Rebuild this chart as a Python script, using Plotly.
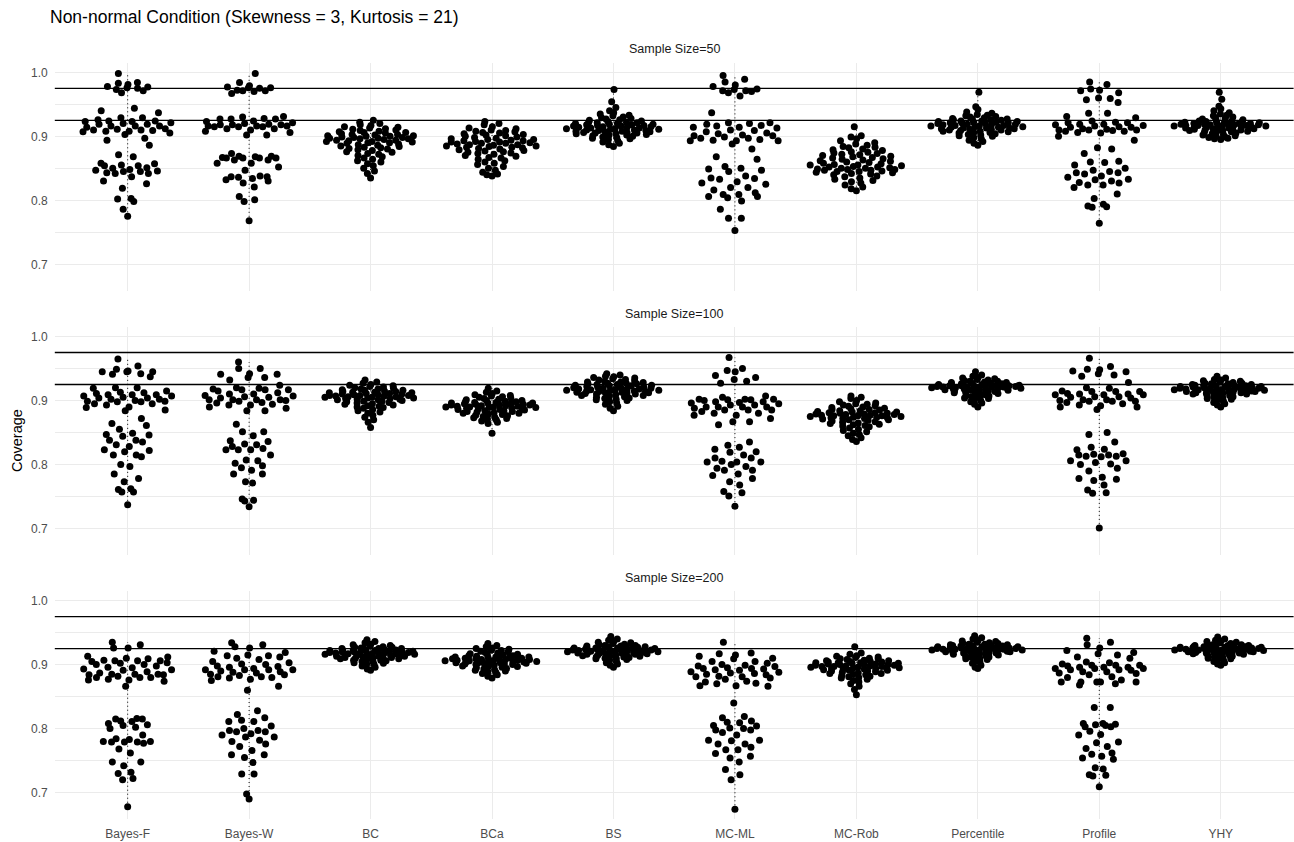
import numpy as np
import plotly.graph_objects as go

# ---------------- data (coverage values) ----------------
methods = ["Bayes-F", "Bayes-W", "BC", "BCa", "BS", "MC-ML", "MC-Rob", "Percentile", "Profile", "YHY"]
panel_titles = ["Sample Size=50", "Sample Size=100", "Sample Size=200"]
ref_lines = [0.925, 0.975]
y_ticks = [0.7, 0.8, 0.9, 1.0]
y_tick_labels = ["0.7", "0.8", "0.9", "1.0"]

# values in thousandths
# ---- Sample Size = 50
bayes_f_50 = [998,984,983,981,978,977,975,973,971,968,976,
              944,940,937,929,929,926,924,924,923,923,921,919,919,916,916,916,912,911,910,910,909,908,908,907,905,903,897,894,886,920,914,
              871,868,858,857,855,854,854,851,848,847,846,845,845,842,842,837,830,826,819,803,802,798,786,775,850,843]
bayes_w_50 = [998,979,984,976,971,970,972,967,971,975,976,977,
              928,915,918,916,924,920,912,915,927,923,927,931,916,916,919,918,927,918,902,906,908,902,915,930,921,910,912,
              863,866,858,868,869,863,866,858,867,869,873,866,866,852,847,837,838,834,827,830,832,836,837,821,798,806,801,768]
bc_50 = [925,922,920,918,917,915,914,913,912,911,910,909,908,907,906,906,905,904,903,903,902,901,900,900,899,898,898,897,896,896,
         895,894,894,893,892,892,891,890,890,889,888,887,886,885,884,883,882,881,880,879,878,876,875,873,872,870,868,866,864,862,
         860,857,854,850,846,842,835,901,897]
bca_50 = [923,920,918,915,913,912,910,909,908,907,906,905,904,903,902,901,900,899,898,897,896,895,895,894,893,893,892,891,891,890,
          889,889,888,887,887,886,885,885,884,883,883,882,881,880,879,878,877,876,875,874,873,872,870,869,867,866,864,862,860,858,
          856,853,850,847,844,841,840,838]
bs_50 = [973,954,945,940,937,935,933,932,930,929,928,927,926,925,924,923,922,921,920,920,919,918,917,917,916,915,915,914,913,913,
         912,911,911,910,909,909,908,907,907,906,905,905,904,903,902,901,900,899,898,897,896,895,893,891,889,887,884,
         921,918,916,914,912,910,908,906,904,902,922,919]
mc_ml_50 = [985,995,989,971,971,973,970,978,974,963,968,980,
            937,919,921,917,913,920,921,909,914,914,902,901,893,888,907,897,893,895,897,894,901,893,904,880,868,864,910,905,899,916,
            853,849,850,847,835,833,838,825,829,834,820,816,806,804,809,809,806,799,820,786,772,772,753,845,812,827]
mc_rob_50 = [915,901,899,896,893,890,888,886,884,883,882,880,879,878,876,875,874,873,872,871,870,869,868,867,866,865,864,863,862,861,
             860,859,858,857,856,855,855,854,853,852,852,851,850,850,849,848,848,847,847,846,845,845,844,843,842,841,840,838,837,835,
             833,831,829,827,824,821,818,815]
percentile_50 = [969,946,942,938,936,934,933,932,931,930,929,928,927,926,926,925,924,923,923,922,921,921,920,919,919,918,917,917,916,915,
                 915,914,913,913,912,911,911,910,909,908,908,907,906,905,904,903,902,901,900,898,896,894,892,889,886,
                 920,916,912,924,918,914,910,922,927,921,913,906]
profile_50 = [985,972,968,971,974,957,960,959,953,936,981,
              936,929,921,914,900,915,909,908,919,916,924,931,908,911,919,910,894,914,910,921,910,918,912,906,917,922,905,
              882,880,873,860,861,859,855,847,843,841,843,836,832,838,833,828,827,824,824,803,790,789,791,794,764,850,845,830,820,810]
yhy_50 = [969,958,947,943,940,937,935,933,932,930,929,928,927,926,925,924,924,923,922,922,921,920,920,919,919,918,918,917,917,916,
          916,915,915,914,913,913,912,911,911,910,909,908,908,907,906,905,904,903,902,901,900,899,898,897,896,895,
          921,918,916,914,912,910,923,919,915,909,920,917]

# ---- Sample Size = 100
bayes_f_100 = [965,954,946,945,941,942,945,949,945,937,
               919,912,907,895,899,904,909,915,920,909,907,920,909,904,895,898,899,900,902,890,885,889,884,911,902,898,905,913,893,
               872,861,864,849,847,846,844,838,838,831,822,820,828,823,815,812,815,797,800,785,778,773,757,761,757,762,737,855,835]
bayes_w_100 = [960,950,950,942,941,941,936,936,932,
               917,910,900,899,890,918,901,907,910,917,917,901,901,924,915,904,919,906,901,893,893,884,888,884,894,912,905,897,920,908,896,
               863,851,851,831,828,823,823,836,837,823,832,825,806,802,807,798,791,795,785,785,771,773,744,743,746,734,845,815]
bc_100 = [932,929,927,925,924,923,922,921,920,919,918,918,917,916,916,915,914,914,913,912,912,911,911,910,910,909,909,908,908,907,
          907,906,906,905,905,904,904,903,903,902,901,901,900,899,899,898,897,896,895,894,893,892,891,890,889,888,886,884,882,880,
          877,874,870,866,858,913,908,902]
bca_100 = [919,915,913,911,909,908,907,906,905,904,903,902,901,900,900,899,898,898,897,896,896,895,895,894,894,893,893,892,892,891,
           891,890,890,889,889,888,888,887,886,886,885,884,883,883,882,881,880,879,878,877,876,875,874,873,872,871,870,868,866,864,
           849,897,893,890,887,884,880,896]
bs_100 = [942,940,938,937,936,935,934,933,932,931,930,929,929,928,927,927,926,925,925,924,923,923,922,921,921,920,919,919,918,918,
          917,917,916,916,915,915,914,914,913,913,912,912,911,910,910,909,908,907,906,905,904,903,902,901,900,898,896,894,891,888,
          884,920,916,912,908,924,926,918]
mc_ml_100 = [967,947,950,945,939,936,933,930,927,
             901,885,902,893,880,907,897,890,885,890,898,877,880,862,867,890,902,867,877,898,901,885,890,896,902,895,888,883,872,900,905,893,
             835,827,820,819,830,824,810,810,805,800,791,791,804,804,804,794,783,778,773,768,758,751,756,735,815,797,785]
mc_rob_100 = [907,905,903,900,898,896,895,894,893,892,891,890,889,888,887,886,886,885,884,884,883,882,882,881,880,880,879,879,878,878,
              877,877,876,876,875,875,874,874,873,873,872,872,871,870,870,869,868,867,866,865,864,863,862,861,860,859,857,855,853,851,
              849,847,845,842,839,836,881,876]
percentile_100 = [945,940,938,936,935,934,933,932,931,930,930,929,928,928,927,927,926,926,925,925,924,924,923,923,922,922,921,921,921,920,
                  920,919,919,918,918,917,917,916,916,915,915,914,913,913,912,911,910,909,908,907,906,905,904,903,902,900,898,896,894,890,
                  924,922,920,918,926,923,919,921]
profile_100 = [966,953,948,945,946,949,942,940,938,928,
               914,915,909,900,899,890,901,911,914,909,892,901,895,886,904,914,909,906,890,910,893,906,919,910,899,899,920,905,897,
               850,847,835,824,816,813,813,817,815,823,827,815,806,801,803,806,800,794,780,778,777,775,768,760,756,755,701,812,790]
yhy_100 = [938,935,933,932,931,930,929,928,927,927,926,925,925,924,924,923,923,922,922,921,921,920,920,919,919,918,918,917,917,916,
           916,915,915,914,914,913,913,912,911,911,910,909,908,907,906,905,904,903,902,901,899,897,895,893,890,
           922,920,918,916,914,912,924,919,917,915,921,926,910]

# ---- Sample Size = 200
bayes_f_200 = [935,931,926,926,913,912,907,909,906,906,896,885,884,876,880,900,892,891,887,885,877,880,866,900,893,905,906,876,884,880,885,
               910,902,895,889,882,874,903,898,
               808,816,815,815,811,802,800,805,779,777,780,783,780,779,779,768,762,748,748,742,722,732,730,720,678,812,806,790,784]
bayes_w_200 = [934,926,921,931,928,919,914,915,912,914,898,892,892,894,896,884,879,883,901,892,887,890,892,900,889,875,881,877,881,885,866,860,
               910,905,897,888,880,908,903,
               828,813,811,811,800,797,790,795,797,795,787,782,787,780,772,759,759,755,747,729,729,690,698,804,792,776,766,822,817]
bc_200 = [939,936,934,932,931,930,929,928,927,927,926,925,925,924,924,923,923,922,922,921,921,920,920,920,919,919,918,918,918,917,
          917,916,916,915,915,914,914,913,913,912,912,911,910,910,909,908,907,906,905,904,903,902,900,898,896,893,891,
          921,919,917,915,913,911,923,925,909,907,901]
bca_200 = [933,930,928,926,925,924,923,922,921,920,919,918,917,916,916,915,914,914,913,912,912,911,911,910,910,909,909,908,908,907,
           907,906,906,905,905,904,904,903,903,902,901,901,900,899,898,897,896,895,894,893,892,891,890,889,888,886,884,882,879,
           912,909,906,903,900,897,908,905,902]
bs_200 = [944,940,938,936,935,934,933,932,931,930,930,929,929,928,928,927,927,926,926,925,925,924,924,923,923,922,922,922,921,921,
          920,920,919,919,918,918,917,917,916,916,915,914,913,912,911,910,909,908,907,905,903,901,899,896,
          925,923,921,919,917,915,913,926,924,920,918,928,912,910]
mc_ml_200 = [935,917,918,913,909,905,915,905,898,894,899,900,888,891,881,881,871,874,866,882,884,870,867,867,892,894,885,877,897,893,887,
             910,902,895,889,879,873,886,
             840,819,817,809,810,798,805,801,798,800,794,781,782,776,782,776,767,761,767,757,754,748,736,728,720,674,812,804,790,771]
mc_rob_200 = [928,918,916,914,913,912,911,910,909,908,907,906,905,905,904,904,903,903,902,902,901,901,900,900,899,899,898,898,897,897,
              896,896,895,895,894,894,893,893,892,891,891,890,889,888,887,886,885,884,883,882,881,880,879,877,875,873,870,866,861,853,
              906,903,900,897,894,890,886,909]
percentile_200 = [945,942,940,938,937,936,935,934,933,932,932,931,931,930,930,929,929,928,928,927,927,926,926,925,925,925,924,924,923,923,
                  922,922,921,921,920,920,919,919,918,917,916,915,914,913,912,911,910,909,908,906,904,902,899,896,894,
                  928,926,924,922,920,930,927,923,921,918,925,933,915]
profile_200 = [941,935,931,926,919,912,922,915,917,899,896,881,889,894,873,870,876,898,889,894,903,899,886,899,894,884,896,892,887,904,896,892,
               873,873,873,873,910,901,891,880,868,
               833,833,806,803,808,805,808,807,803,796,790,791,779,778,772,769,760,757,762,754,752,737,739,727,726,728,709]
yhy_200 = [943,940,938,937,936,935,934,933,932,931,931,930,930,929,929,928,928,927,927,926,926,925,925,925,924,924,923,923,922,922,
           921,921,920,920,919,919,918,918,917,916,915,914,913,912,911,910,909,908,907,905,903,901,899,
           928,926,924,922,920,927,925,923,921,919,930,917,915,926,924]

panels = [
    [bayes_f_50, bayes_w_50, bc_50, bca_50, bs_50, mc_ml_50, mc_rob_50, percentile_50, profile_50, yhy_50],
    [bayes_f_100, bayes_w_100, bc_100, bca_100, bs_100, mc_ml_100, mc_rob_100, percentile_100, profile_100, yhy_100],
    [bayes_f_200, bayes_w_200, bc_200, bca_200, bs_200, mc_ml_200, mc_rob_200, percentile_200, profile_200, yhy_200],
]

# ---------------- layout geometry (pixels) ----------------
W, H = 1294, 842
X_LEFT, X_RIGHT = 54.8, 1293.6
PANEL_TOPS = [62.7, 326.9, 591.0]
PANEL_H = 228.0
Y_RANGE = [0.6588, 1.0150]
X_RANGE = [0.4, 10.6]
FONT = "Liberation Sans, Arial, Helvetica, sans-serif"


def van_der_corput(n, base=2):
    out = np.empty(n)
    for i in range(1, n + 1):
        q, denom, x = i, 1.0, 0.0
        while q > 0:
            denom *= base
            q, r = divmod(q, base)
            x += r / denom
        out[i - 1] = x
    return out


def quasirandom(vals, width=0.4):
    """Quasirandom (van der Corput) offsets scaled by the kernel density, like geom_quasirandom."""
    v = np.asarray(vals, float)
    n = len(v)
    sd = v.std(ddof=1)
    q75, q25 = np.percentile(v, [75, 25])
    lo = min(sd, (q75 - q25) / 1.34)
    if lo <= 0:
        lo = sd if sd > 0 else 1.0
    bw = 0.9 * lo * n ** -0.2
    grid = np.linspace(v.min() - 3 * bw, v.max() + 3 * bw, 512)

    def dens(t):
        return np.exp(-0.5 * ((t[:, None] - v[None, :]) / bw) ** 2).sum(1)

    dy = dens(v) / dens(grid).max()
    ranks = np.argsort(np.argsort(v, kind="stable"), kind="stable")
    off = van_der_corput(n)[ranks]
    return (off - 0.5) * 2 * dy * width


fig = go.Figure()

for p, groups in enumerate(panels):
    xa = "x" if p == 0 else f"x{p+1}"
    ya = "y" if p == 0 else f"y{p+1}"
    lx, ly = [], []
    for k, g in enumerate(groups):
        v = np.array(g) / 1000.0
        lx += [k + 1, k + 1, None]
        ly += [v.min(), v.max(), None]
    fig.add_trace(go.Scatter(x=lx, y=ly, mode="lines", xaxis=xa, yaxis=ya,
                             line=dict(color="black", width=1, dash="1px,3px"),
                             hoverinfo="skip", showlegend=False))
    xs, ys = [], []
    for k, g in enumerate(groups):
        v = np.array(g) / 1000.0
        off = quasirandom(v)
        xs += list(k + 1 + off)
        ys += list(v)
    fig.add_trace(go.Scatter(x=xs, y=ys, mode="markers", xaxis=xa, yaxis=ya,
                             marker=dict(color="black", size=7, line=dict(width=0)),
                             showlegend=False))
    for r in ref_lines:
        fig.add_shape(type="line", xref=f"{xa} domain", yref=ya, x0=0, x1=1, y0=r, y1=r,
                      line=dict(color="black", width=1.3), layer="above")

grid = "#ebebeb"
layout = dict(
    width=W, height=H, margin=dict(l=0, r=0, t=0, b=0),
    paper_bgcolor="white", plot_bgcolor="white",
    font=dict(family=FONT, color="#4d4d4d"),
    showlegend=False,
)
for p in range(3):
    top = PANEL_TOPS[p]
    dom_y = [1 - (top + PANEL_H) / H, 1 - top / H]
    xk = "xaxis" if p == 0 else f"xaxis{p+1}"
    yk = "yaxis" if p == 0 else f"yaxis{p+1}"
    layout[xk] = dict(
        domain=[X_LEFT / W, X_RIGHT / W], range=X_RANGE,
        anchor="y" if p == 0 else f"y{p+1}",
        tickvals=list(range(1, 11)), ticktext=methods,
        showticklabels=(p == 2), showgrid=True, gridcolor=grid, gridwidth=1.1,
        zeroline=False, showline=False, ticks="",
        tickfont=dict(size=12, color="#4d4d4d", family=FONT), ticklabelstandoff=6,
    )
    layout[yk] = dict(
        domain=dom_y, range=Y_RANGE,
        anchor="x" if p == 0 else f"x{p+1}",
        tickvals=y_ticks, ticktext=y_tick_labels,
        showgrid=True, gridcolor=grid, gridwidth=1.1,
        minor=dict(tickvals=[0.75, 0.85, 0.95], showgrid=True, gridcolor=grid, gridwidth=0.6),
        zeroline=False, showline=False, ticks="",
        tickfont=dict(size=12, color="#4d4d4d", family=FONT), ticklabelstandoff=6,
    )
fig.update_layout(**layout)

annotations = [
    dict(text="Non-normal Condition (Skewness = 3, Kurtosis = 21)", x=48 / W, y=1 - 17 / H,
         xref="paper", yref="paper", xanchor="left", yanchor="middle", showarrow=False,
         font=dict(size=17.5, color="black", family=FONT)),
    dict(text="Coverage", x=17 / W, y=1 - 441 / H, xref="paper", yref="paper",
         xanchor="center", yanchor="middle", textangle=-90, showarrow=False,
         font=dict(size=14.5, color="black", family=FONT)),
]
strip_y = [49, 313.5, 578]
for p in range(3):
    annotations.append(dict(text=panel_titles[p], x=(X_LEFT + X_RIGHT) / 2 / W, y=1 - strip_y[p] / H,
                            xref="paper", yref="paper", xanchor="center", yanchor="middle",
                            showarrow=False, font=dict(size=12.5, color="#1a1a1a", family=FONT)))
fig.update_layout(annotations=annotations)

fig.write_html("out.html")
